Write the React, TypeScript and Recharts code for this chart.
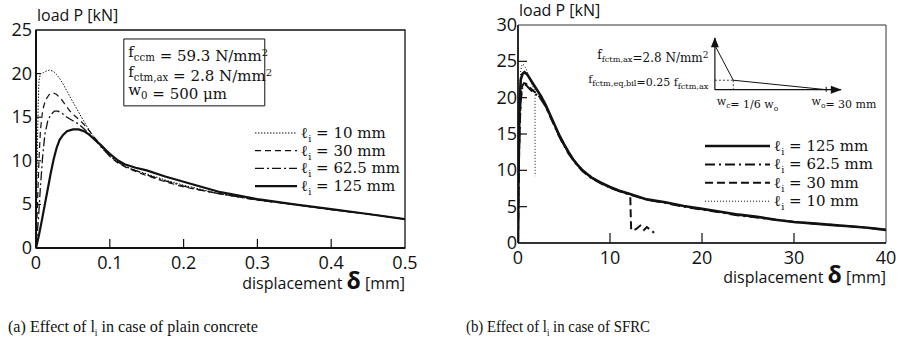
import React from 'react';
import { LineChart, Line, XAxis, YAxis, ReferenceArea, ReferenceLine, ReferenceDot, Legend } from 'recharts';

type Pt = [number, number];

// (a) plain concrete — displacement [mm] vs load [kN]
const plainTicksX = [0, 0.1, 0.2, 0.3, 0.4, 0.5];
const plainTicksY = [0, 5, 10, 15, 20, 25];
const plain10: Pt[] = [[0,0],[0.001,6],[0.002,12],[0.003,16.5],[0.004,19.2],[0.006,20],[0.01,20.1],[0.014,20.3],[0.018,20.4],[0.023,20.3],[0.028,19.9],[0.034,19.2],[0.04,18.3],[0.047,17.2],[0.055,16],[0.063,14.8],[0.07,13.8],[0.078,12.8],[0.085,12.0],[0.092,11.2],[0.1,10.5],[0.11,9.9],[0.12,9.4],[0.135,8.9],[0.15,8.5],[0.175,7.8],[0.2,7.2],[0.225,6.7],[0.25,6.2],[0.3,5.5],[0.35,5.0],[0.4,4.4],[0.45,3.9],[0.5,3.3]];
const plain30: Pt[] = [[0,0],[0.002,5],[0.004,10],[0.006,13.5],[0.009,15.8],[0.013,17],[0.018,17.6],[0.023,17.8],[0.028,17.6],[0.034,17.1],[0.04,16.4],[0.046,15.7],[0.052,15.2],[0.06,14.6],[0.068,13.9],[0.076,13],[0.084,12.2],[0.092,11.3],[0.1,10.5],[0.11,9.8],[0.125,9.1],[0.15,8.3],[0.175,7.6],[0.2,7.0],[0.225,6.6],[0.25,6.2],[0.3,5.5],[0.35,5.0],[0.4,4.4],[0.45,3.9],[0.5,3.3]];
const plain62: Pt[] = [[0,0],[0.003,3],[0.006,7],[0.009,10.5],[0.012,13],[0.016,14.6],[0.02,15.3],[0.025,15.7],[0.03,15.7],[0.036,15.4],[0.042,15],[0.05,14.6],[0.058,14.2],[0.066,13.6],[0.074,12.9],[0.082,12.2],[0.09,11.4],[0.1,10.6],[0.11,9.9],[0.125,9.2],[0.15,8.4],[0.175,7.7],[0.2,7.1],[0.225,6.6],[0.25,6.2],[0.3,5.5],[0.35,5.0],[0.4,4.4],[0.45,3.9],[0.5,3.3]];
const plain125: Pt[] = [[0,0],[0.004,1.5],[0.008,3.2],[0.012,5],[0.016,6.8],[0.02,8.6],[0.024,10.2],[0.028,11.5],[0.032,12.4],[0.037,13.0],[0.042,13.4],[0.05,13.6],[0.058,13.6],[0.065,13.4],[0.072,13.0],[0.08,12.4],[0.088,11.8],[0.095,11.2],[0.1,10.8],[0.11,10.1],[0.12,9.6],[0.135,9.2],[0.15,8.9],[0.175,8.2],[0.2,7.6],[0.225,7.0],[0.25,6.4],[0.275,6.0],[0.3,5.6],[0.35,5.0],[0.4,4.45],[0.45,3.9],[0.5,3.3]];

// (b) SFRC
const sfrcTicksX = [0, 10, 20, 30, 40];
const sfrcTicksY = [0, 5, 10, 15, 20, 25, 30];
const sfrc125: Pt[] = [[0,0],[0.05,8],[0.1,14],[0.2,20],[0.3,22.5],[0.5,23.3],[0.7,23.5],[1.0,23.2],[1.5,22.2],[2,21.2],[2.5,20.2],[3,19.0],[3.5,17.6],[4,16.2],[4.5,14.8],[5,13.6],[5.5,12.5],[6,11.5],[6.5,10.7],[7,10.0],[8,9.0],[9,8.3],[10,7.7],[11,7.2],[12,6.8],[13,6.4],[14,6.0],[15,5.8],[16,5.6],[18,5.1],[20,4.7],[22,4.3],[24,3.9],[26,3.6],[28,3.2],[30,2.9],[32,2.7],[34,2.5],[36,2.3],[38,2.1],[40,1.8]];
const sfrc62: Pt[] = [[0,0],[0.05,6],[0.1,11],[0.2,16.5],[0.3,19.5],[0.45,21.3],[0.65,21.8],[0.9,21.7],[1.2,21.3],[1.6,20.8],[2,20.4],[2.5,19.8],[3,18.8],[3.5,17.4],[4,16],[4.5,14.6],[5,13.4],[5.5,12.3],[6,11.4],[6.5,10.6],[7,9.9],[8,8.9],[9,8.2],[10,7.6],[12,6.7],[14,6.0],[16,5.5],[18,5.0],[20,4.6],[22,4.2],[24,3.8],[26,3.5],[28,3.2],[30,2.9],[32,2.7],[34,2.5],[36,2.3],[38,2.1],[40,1.8]];
const sfrc30: Pt[] = [[0,0],[0.05,6.5],[0.1,11.5],[0.2,17],[0.3,20],[0.45,21.6],[0.65,22],[0.9,21.9],[1.2,21.5],[1.6,21],[2,20.6],[2.5,19.9],[3,18.9],[3.5,17.5],[4,16.1],[4.5,14.7],[5,13.5],[5.5,12.4],[6,11.5],[6.5,10.7],[7,10],[8,9],[9,8.3],[10,7.6],[11,7.2],[12,6.8],[12.2,6.7],[12.25,4],[12.3,1.8],[12.8,1.9],[13.3,2.4],[13.7,1.8],[14.0,2.2],[14.8,1.4]];
const sfrc10: Pt[] = [[0,0],[0.05,10],[0.1,16],[0.2,21.5],[0.3,23.8],[0.45,24.6],[0.65,24.5],[0.9,23.9],[1.2,22.8],[1.5,21.8],[1.8,21],[1.85,20.6],[1.86,9.2]];

const SANS = '"Open Sans", sans-serif';
const SERIF = '"DejaVu Serif", serif';
const INK = '#111';

const rows = (pts: Pt[]) => pts.map(([x, y]) => ({ x, y }));

type Style = { name: string; dash?: string; width: number };
const plainStyles: Style[] = [
  { name: '10', dash: '1.5 1.5', width: 1 },
  { name: '30', dash: '6 4', width: 1.2 },
  { name: '62.5', dash: '9 3 2 3', width: 1.3 },
  { name: '125', width: 2.2 },
];
const sfrcStyles: Style[] = [
  { name: '125', width: 2.6 },
  { name: '62.5', dash: '10 4 2 4', width: 2 },
  { name: '30', dash: '8 4', width: 2 },
  { name: '10', dash: '1 2', width: 1 },
];

function makeXTick(last: number, len: number) {
  return (p: any) => {
    const v = p.payload.value;
    const inner = v !== 0 && v !== last;
    return (
      <g>
        {inner && <line x1={p.x} x2={p.x} y1={p.y} y2={p.y - len} stroke={INK} strokeWidth={1.2} />}
        <text x={p.x} y={p.y + 21} textAnchor="middle" fontSize={18} fontFamily={SANS} fill={INK}>{v}</text>
      </g>
    );
  };
}

function makeYTick(last: number, len: number, gap: number) {
  return (p: any) => {
    const v = p.payload.value;
    const inner = v !== 0 && v !== last;
    return (
      <g>
        {inner && <line x1={p.x} x2={p.x + len} y1={p.y} y2={p.y} stroke={INK} strokeWidth={1.2} />}
        <text x={p.x - gap} y={p.y + 6} textAnchor="end" fontSize={18} fontFamily={SANS} fill={INK}>{v}</text>
      </g>
    );
  };
}

const yTitle = (p: any) => (
  <text x={p.viewBox.x + p.viewBox.width + 1} y={p.viewBox.y - 9} fontSize={16} fontFamily={SANS} fill={INK}>load P [kN]</text>
);
const xTitle = (dy: number) => (p: any) => (
  <text x={p.viewBox.x + p.viewBox.width} y={p.viewBox.y + dy} textAnchor="end" fontSize={16} fontFamily={SANS} fill={INK}>
    displacement <tspan fontSize={23} fontWeight="bold">δ</tspan> [mm]
  </text>
);

function legendBox(styles: Style[], lineW: number, rowH: number, fontSize: number) {
  return () => (
    <svg width={lineW + 110} height={rowH * 4 + 8} style={{ display: 'block' }}>
      {styles.map((s, i) => {
        const cy = 9 + i * rowH;
        return (
          <g key={s.name}>
            <line x1={0} x2={lineW} y1={cy} y2={cy} stroke={INK} strokeWidth={s.width} strokeDasharray={s.dash} />
            <text x={lineW + 4} y={cy + 5} fontSize={fontSize} fontFamily={SERIF} fill={INK}>
              ℓ<tspan fontSize={fontSize * 0.65} dy={4}>i</tspan><tspan dy={-4}> = {s.name} mm</tspan>
            </text>
          </g>
        );
      })}
    </svg>
  );
}

function Sub({ main, sub, size }: { main: string; sub: string; size: number }) {
  return (
    <>
      <tspan>{main}</tspan>
      <tspan fontSize={size * 0.68} dy={size * 0.25}>{sub}</tspan>
      <tspan dy={-size * 0.25}>{''}</tspan>
    </>
  );
}

const textAt = (content: React.ReactNode, anchor: 'start' | 'end', size: number) => (p: any) => (
  <text x={p.cx} y={p.cy + size * 0.35} textAnchor={anchor} fontSize={size} fontFamily={SERIF} fill={INK}>{content}</text>
);

const arrowUp = (p: any) => <polygon points={`${p.cx},${p.cy} ${p.cx - 4},${p.cy + 10} ${p.cx + 4},${p.cy + 10}`} fill={INK} />;
const arrowRight = (p: any) => <polygon points={`${p.cx},${p.cy} ${p.cx - 11},${p.cy - 4} ${p.cx - 11},${p.cy + 4}`} fill={INK} />;

export default function App() {
  return (
    <div style={{ position: 'absolute', left: 0, top: 0, width: 901, height: 346, background: '#fff', overflow: 'hidden' }}>
      <div style={{ position: 'absolute', left: 0, top: 0 }}>
        <LineChart width={450} height={300} margin={{ top: 30, right: 45, bottom: 10, left: 0 }}>
          <XAxis type="number" dataKey="x" domain={[0, 0.5]} ticks={plainTicksX} allowDataOverflow
            tickSize={0} tickMargin={0} height={42} axisLine={{ stroke: INK, strokeWidth: 2 }} tickLine={false}
            tick={makeXTick(0.5, 9)} label={xTitle(41)} />
          <YAxis type="number" domain={[0, 25]} ticks={plainTicksY} width={36} allowDataOverflow
            tickSize={0} tickMargin={0} axisLine={{ stroke: INK, strokeWidth: 2 }} tickLine={false}
            tick={makeYTick(25, 5, 4)} label={yTitle} />
          <ReferenceArea x1={0} x2={0.5} y1={0} y2={25} fill="none" stroke={INK} strokeWidth={1.3} />
          <Line data={rows(plain10)} dataKey="y" type="linear" dot={false} stroke={INK} strokeWidth={1} strokeDasharray="1.5 1.5" isAnimationActive={false} />
          <Line data={rows(plain30)} dataKey="y" type="linear" dot={false} stroke={INK} strokeWidth={1.2} strokeDasharray="6 4" isAnimationActive={false} />
          <Line data={rows(plain62)} dataKey="y" type="linear" dot={false} stroke={INK} strokeWidth={1.3} strokeDasharray="9 3 2 3" isAnimationActive={false} />
          <Line data={rows(plain125)} dataKey="y" type="linear" dot={false} stroke={INK} strokeWidth={2.2} isAnimationActive={false} />
          <ReferenceArea x1={0.119} x2={0.31} y1={16.3} y2={23.97} fill="#fff" stroke={INK} strokeWidth={1} />
          <ReferenceDot x={0.125} y={22.5} r={0} shape={textAt(<><Sub main="f" sub="ccm" size={15} /> = 59.3 N/mm<tspan fontSize={10} dy={-5}>2</tspan></>, 'start', 15)} />
          <ReferenceDot x={0.125} y={20.2} r={0} shape={textAt(<><Sub main="f" sub="ctm,ax" size={15} /> = 2.8 N/mm<tspan fontSize={10} dy={-5}>2</tspan></>, 'start', 15)} />
          <ReferenceDot x={0.125} y={18.1} r={0} shape={textAt(<><Sub main="w" sub="0" size={15} /> = 500 μm</>, 'start', 15)} />
          <Legend layout="horizontal" verticalAlign="middle" align="center" content={legendBox(plainStyles, 42, 17.7, 15)}
            wrapperStyle={{ left: 255, top: 124, width: 160, height: 80 }} />
        </LineChart>
      </div>

      <div style={{ position: 'absolute', left: 450, top: 0 }}>
        <LineChart width={451} height={300} margin={{ top: 25, right: 15, bottom: 10, left: 0 }}>
          <XAxis type="number" dataKey="x" domain={[0, 40]} ticks={sfrcTicksX} allowDataOverflow
            tickSize={0} tickMargin={0} height={47} axisLine={{ stroke: INK, strokeWidth: 1.6 }} tickLine={false}
            tick={makeXTick(40, 10)} label={xTitle(40)} />
          <YAxis type="number" domain={[0, 30]} ticks={sfrcTicksY} width={68} allowDataOverflow
            tickSize={0} tickMargin={0} axisLine={{ stroke: INK, strokeWidth: 1.6 }} tickLine={false}
            tick={makeYTick(30, 9, 1)} label={yTitle} />
          <ReferenceArea x1={0} x2={40} y1={0} y2={30} fill="none" stroke="#333" strokeWidth={1} />
          <Line data={rows(sfrc10)} dataKey="y" type="linear" dot={false} stroke={INK} strokeWidth={1} strokeDasharray="1 2" isAnimationActive={false} />
          <Line data={rows(sfrc30)} dataKey="y" type="linear" dot={false} stroke={INK} strokeWidth={2} strokeDasharray="8 4" isAnimationActive={false} />
          <Line data={rows(sfrc62)} dataKey="y" type="linear" dot={false} stroke={INK} strokeWidth={2} strokeDasharray="10 4 2 4" isAnimationActive={false} />
          <Line data={rows(sfrc125)} dataKey="y" type="linear" dot={false} stroke={INK} strokeWidth={2.6} isAnimationActive={false} />

          {/* inset: bilinear softening law */}
          <ReferenceLine segment={[{ x: 21.4, y: 21.1 }, { x: 21.4, y: 28.2 }]} stroke={INK} strokeWidth={1.2} />
          <ReferenceLine segment={[{ x: 21.4, y: 21.1 }, { x: 35.1, y: 21.1 }]} stroke={INK} strokeWidth={1.2} />
          <ReferenceLine segment={[{ x: 21.4, y: 27.2 }, { x: 23.4, y: 22.4 }]} stroke={INK} strokeWidth={1} />
          <ReferenceLine segment={[{ x: 23.4, y: 22.4 }, { x: 33.5, y: 21.1 }]} stroke={INK} strokeWidth={1} />
          <ReferenceLine segment={[{ x: 21.4, y: 22.4 }, { x: 23.4, y: 22.4 }]} stroke={INK} strokeWidth={0.8} strokeDasharray="2 2" />
          <ReferenceLine segment={[{ x: 23.4, y: 22.4 }, { x: 23.4, y: 21.1 }]} stroke={INK} strokeWidth={0.8} strokeDasharray="2 2" />
          <ReferenceLine segment={[{ x: 33.5, y: 20.8 }, { x: 33.5, y: 21.5 }]} stroke={INK} strokeWidth={1} />
          <ReferenceLine segment={[{ x: 21.1, y: 27.2 }, { x: 21.7, y: 27.2 }]} stroke={INK} strokeWidth={1} />
          <ReferenceDot x={21.4} y={28.3} r={0} shape={arrowUp} />
          <ReferenceDot x={35.2} y={21.1} r={0} shape={arrowRight} />
          <ReferenceDot x={20.7} y={25.9} r={0} shape={textAt(<><Sub main="f" sub="fctm,ax" size={12} />=2.8 N/mm<tspan fontSize={9} dy={-4}>2</tspan></>, 'end', 12)} />
          <ReferenceDot x={20.7} y={22.5} r={0} shape={textAt(<><Sub main="f" sub="fctm,eq,bil" size={12} />=0.25 <Sub main="f" sub="fctm,ax" size={12} /></>, 'end', 11)} />
          <ReferenceDot x={21.6} y={19.5} r={0} shape={textAt(<><Sub main="w" sub="c" size={11} />= 1/6 <Sub main="w" sub="o" size={11} /></>, 'start', 11)} />
          <ReferenceDot x={31.9} y={19.5} r={0} shape={textAt(<><Sub main="w" sub="o" size={11} />= 30 mm</>, 'start', 11)} />

          <Legend layout="horizontal" verticalAlign="middle" align="center" content={legendBox(sfrcStyles, 65, 18.4, 15)}
            wrapperStyle={{ left: 255, top: 137, width: 190, height: 84 }} />
        </LineChart>
      </div>

      <svg width={901} height={46} style={{ position: 'absolute', left: 0, top: 300 }}>
        <text x={8} y={32} fontSize={17} fontFamily='"Liberation Serif", serif' fill={INK} textLength={250} lengthAdjust="spacingAndGlyphs">
          (a) Effect of l<tspan fontSize={10} dy={4}>i</tspan><tspan dy={-4}> in case of plain concrete</tspan>
        </text>
        <text x={466} y={32} fontSize={17} fontFamily='"Liberation Serif", serif' fill={INK} textLength={184} lengthAdjust="spacingAndGlyphs">
          (b) Effect of l<tspan fontSize={10} dy={4}>i</tspan><tspan dy={-4}> in case of SFRC</tspan>
        </text>
      </svg>
    </div>
  );
}
